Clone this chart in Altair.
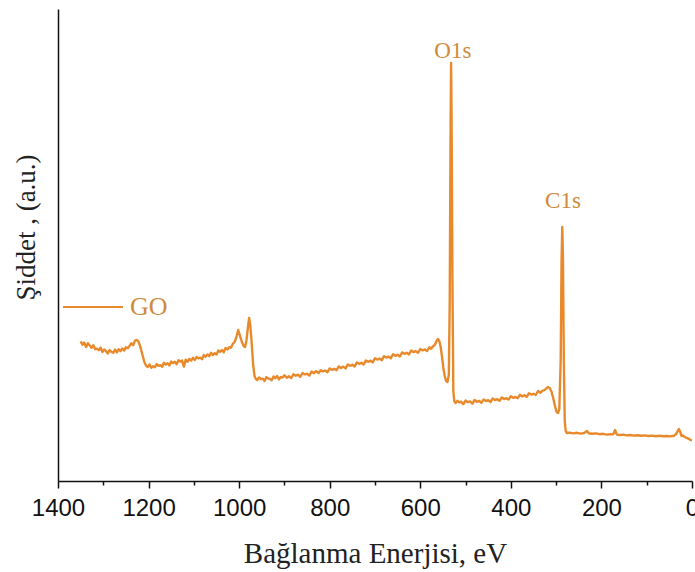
import altair as alt
import pandas as pd

# XPS survey spectrum of graphene oxide (GO)
energy_ev = [
    1350, 1346, 1342, 1338, 1334, 1330, 1326, 1322, 1318, 1314,
    1310, 1306, 1302, 1298, 1294, 1290, 1286, 1282, 1278, 1274,
    1270, 1266, 1262, 1258, 1254, 1250, 1246, 1242, 1238, 1234,
    1230, 1226, 1222, 1218, 1214, 1210, 1206, 1202, 1198, 1194,
    1190, 1186, 1182, 1178, 1174, 1170, 1166, 1162, 1158, 1154,
    1150, 1146, 1142, 1138, 1134, 1130, 1126, 1122, 1118, 1114,
    1110, 1106, 1102, 1098, 1094, 1090, 1086, 1082, 1078, 1074,
    1070, 1066, 1062, 1058, 1054, 1050, 1046, 1042, 1038, 1034,
    1030, 1026, 1022, 1018, 1014, 1010, 1006, 1002, 998, 994,
    990, 987, 984, 981, 978, 975, 972, 969, 966, 963,
    960, 956, 952, 948, 944, 940, 936, 932, 928, 924,
    920, 916, 912, 908, 904, 900, 895, 890, 885, 880,
    875, 870, 865, 860, 855, 850, 845, 840, 835, 830,
    825, 820, 815, 810, 805, 800, 795, 790, 785, 780,
    775, 770, 765, 760, 755, 750, 745, 740, 735, 730,
    725, 720, 715, 710, 705, 700, 695, 690, 685, 680,
    675, 670, 665, 660, 655, 650, 645, 640, 635, 630,
    625, 620, 615, 610, 605, 600, 595, 590, 585, 580,
    576, 572, 568, 564, 561, 558, 555, 552, 549, 546,
    543, 540, 537, 535, 533, 532, 531, 529, 527, 525,
    522, 518, 514, 510, 505, 500, 495, 490, 485, 480,
    475, 470, 465, 460, 455, 450, 445, 440, 435, 430,
    425, 420, 415, 410, 405, 400, 395, 390, 385, 380,
    375, 370, 365, 360, 355, 350, 345, 340, 335, 330,
    326, 322, 318, 314, 310, 306, 302, 299, 296, 293,
    290, 288, 286.5, 285, 283, 281, 279, 276, 270, 262,
    254, 246, 238, 232, 228, 220, 212, 204, 196, 188,
    180, 174, 170, 166, 160, 152, 144, 136, 128, 120,
    112, 104, 96, 88, 80, 72, 64, 56, 48, 40,
    36, 32, 29, 26, 23, 20, 16, 12, 8, 4,
    0,
]

intensity = [
    69.8, 68.1, 69.2, 67.0, 68.9, 67.8, 66.6, 67.9, 65.9, 66.2,
    65.4, 66.7, 64.5, 65.8, 64.9, 63.8, 65.5, 64.6, 64.1, 65.7,
    64.3, 65.9, 64.9, 66.3, 65.2, 66.9, 66.4, 67.5, 68.9, 67.9,
    70.2, 70.5, 69.6, 67.0, 63.5, 60.0, 57.8, 57.0, 58.3, 56.6,
    57.4, 56.9, 58.5, 57.6, 57.9, 57.1, 59.1, 58.2, 58.9, 57.8,
    59.7, 59.0, 59.6, 58.4, 60.4, 59.7, 60.2, 57.2, 60.7, 59.6,
    61.0, 60.2, 61.6, 60.5, 62.0, 61.3, 61.7, 60.9, 63.0, 62.1,
    63.3, 62.4, 64.1, 63.0, 63.9, 63.2, 65.3, 64.6, 65.5, 64.4,
    66.5, 65.8, 66.9, 66.6, 68.6, 69.5, 72.0, 75.5, 72.5, 69.5,
    67.5, 67.0, 70.0, 76.0, 81.5, 77.0, 68.0, 58.0, 52.5, 51.0,
    50.5, 51.8, 50.9, 51.2, 50.0, 51.9, 51.3, 51.0, 50.4, 52.3,
    51.4, 52.5, 50.8, 52.0, 51.7, 52.9, 51.6, 52.4, 51.5, 53.4,
    52.6, 53.2, 52.1, 54.0, 53.3, 53.6, 52.7, 54.7, 53.9, 55.0,
    53.9, 55.4, 54.8, 55.2, 54.4, 56.3, 55.6, 56.1, 55.4, 57.3,
    56.5, 57.2, 56.3, 58.3, 57.6, 58.1, 57.3, 59.3, 58.6, 59.1,
    58.3, 60.3, 59.6, 60.2, 59.3, 61.4, 60.7, 61.2, 60.4, 62.4,
    61.7, 62.2, 61.4, 63.4, 62.6, 63.1, 62.3, 64.3, 63.6, 64.1,
    63.3, 65.2, 64.5, 64.9, 64.1, 66.0, 65.3, 65.8, 65.0, 66.9,
    66.1, 67.4, 68.0, 70.0, 71.0, 70.0, 67.0, 62.0, 56.5, 52.5,
    50.0, 49.5, 53.0, 90.0, 180.0, 209.0, 185.0, 100.0, 45.0, 40.0,
    39.0, 40.1, 39.3, 39.7, 38.4, 40.2, 39.4, 39.8, 38.7, 40.5,
    39.6, 40.1, 39.1, 40.8, 40.0, 40.4, 39.5, 41.3, 40.5, 40.9,
    40.1, 41.8, 41.0, 41.4, 40.7, 42.4, 41.6, 42.0, 41.4, 43.1,
    42.3, 42.9, 42.1, 43.9, 43.2, 43.6, 43.0, 45.0, 44.1, 45.2,
    45.4, 46.2, 47.0, 46.5, 44.5, 41.0, 37.0, 34.5, 34.0, 36.0,
    60.0, 110.0, 127.0, 112.0, 60.0, 30.0, 25.0, 24.0, 24.2, 23.8,
    24.1, 23.7, 24.0, 25.0, 23.9, 23.6, 23.8, 23.4, 23.6, 23.2,
    23.4, 23.3, 25.5, 23.2, 23.0, 23.2, 22.8, 23.0, 22.7, 22.9,
    22.6, 22.8, 22.5, 22.7, 22.4, 22.6, 22.4, 22.5, 22.3, 22.6,
    23.2, 24.8, 26.0, 24.5, 22.5, 22.8, 22.0, 21.6, 21.2, 20.6,
    20.3,
]

# Peak annotations
peak_names = ["O1s", "C1s"]
peak_energy = [528, 285]
peak_label_level = [211.5, 136.5]

# Axis ticks every 100 eV, labelled every 200 eV
tick_values = list(range(0, 1401, 100))

LINE_COLOR = "#E88A2C"
TEXT_COLOR = "#D08A3C"
SERIF = "Liberation Serif"
SANS = "Liberation Sans"

spectrum = pd.DataFrame({
    "energy": energy_ev,
    "intensity": intensity,
    "sample": ["GO"] * len(energy_ev),
})
peaks = pd.DataFrame({
    "name": peak_names,
    "energy": peak_energy,
    "level": peak_label_level,
})

x_scale = alt.Scale(domain=[1400, 0], nice=False, zero=False)
y_scale = alt.Scale(domain=[0, 236], nice=False, zero=False)

x_axis = alt.Axis(
    title="Bağlanma Enerjisi, eV",
    values=tick_values,
    format="d",
    labelExpr="datum.value % 200 === 0 ? datum.label : ''",
    labelOverlap=False,
    labelFlush=False,
    labelFont=SANS,
    labelFontSize=24,
    labelColor="#111111",
    labelPadding=8,
    tickSize={"condition": {"test": "datum.value % 200 === 0", "value": 7}, "value": 4},
    tickColor="#111111",
    tickWidth=1.5,
    domainColor="#111111",
    domainWidth=1.5,
    grid=False,
    titleFont=SERIF,
    titleFontSize=29,
    titleFontWeight="normal",
    titleColor="#222222",
    titleBaseline="alphabetic",
    titleY=81,
)

y_axis = alt.Axis(
    title="Şiddet , (a.u.)",
    labels=False,
    ticks=False,
    grid=False,
    domainColor="#111111",
    domainWidth=1.5,
    titleFont=SERIF,
    titleFontSize=27,
    titleFontWeight="normal",
    titleColor="#222222",
    titleAngle=270,
    titleAlign="center",
    titleBaseline="alphabetic",
    titleX=-24,
    titleY=218,
)

line = alt.Chart(spectrum).mark_line(
    strokeWidth=2.4, strokeJoin="round", clip=True
).encode(
    x=alt.X("energy:Q", scale=x_scale, axis=x_axis),
    y=alt.Y("intensity:Q", scale=y_scale, axis=y_axis),
    order=alt.Order("energy:Q", sort="descending"),
    color=alt.Color(
        "sample:N",
        scale=alt.Scale(range=[LINE_COLOR]),
        legend=alt.Legend(
            title=None,
            orient="none",
            legendX=4,
            legendY=267,
            symbolType="stroke",
            symbolSize=3600,
            symbolStrokeWidth=2,
            labelFont=SERIF,
            labelFontSize=26,
            labelColor=TEXT_COLOR,
            labelOffset=6,
            padding=0,
        ),
    ),
)

labels = alt.Chart(peaks).mark_text(
    font=SERIF, fontSize=23, color=TEXT_COLOR, align="center", baseline="alphabetic"
).encode(
    x=alt.X("energy:Q", scale=x_scale),
    y=alt.Y("level:Q", scale=y_scale),
    text="name:N",
)

chart = (
    alt.layer(line, labels)
    .properties(
        width=634,
        height=472,
        autosize=alt.AutoSizeParams(type="none"),
        padding={"left": 58, "top": 9, "right": 3, "bottom": 91},
        background="white",
    )
    .configure_view(stroke=None)
)

chart.save("out.html", embed_options={"renderer": "svg", "actions": False})
